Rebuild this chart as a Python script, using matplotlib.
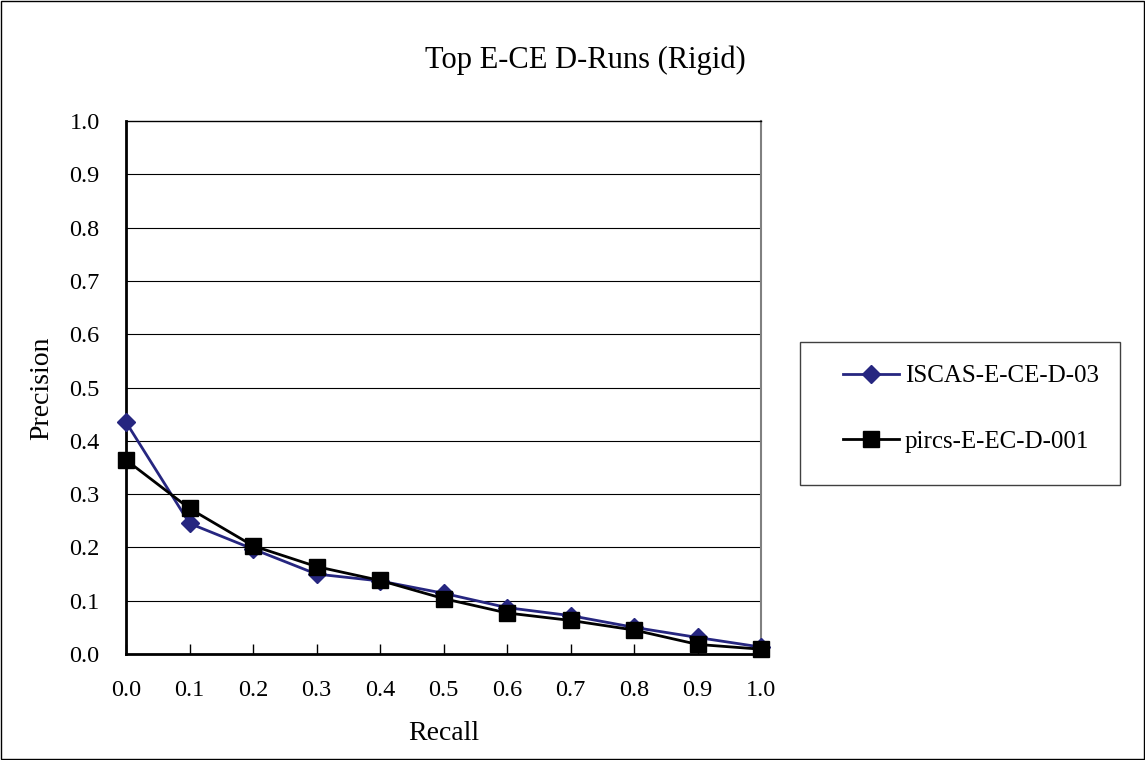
import matplotlib.pyplot as plt
import matplotlib.patches as mpatches

plt.rcParams['font.family'] = ['Liberation Serif', 'DejaVu Serif']

recall = [0.0, 0.1, 0.2, 0.3, 0.4, 0.5, 0.6, 0.7, 0.8, 0.9, 1.0]
iscas = [0.435, 0.245, 0.197, 0.150, 0.137, 0.114, 0.087, 0.072, 0.050, 0.031, 0.013]
pircs = [0.364, 0.273, 0.203, 0.164, 0.138, 0.104, 0.077, 0.063, 0.045, 0.018, 0.009]
names = ['ISCAS-E-CE-D-03', 'pircs-E-EC-D-001']
yticks = [0.0, 0.1, 0.2, 0.3, 0.4, 0.5, 0.6, 0.7, 0.8, 0.9, 1.0]

W, H = 1145, 760
fig = plt.figure(figsize=(W / 100, H / 100), dpi=100)
ax = fig.add_axes([126 / W, 1 - 654 / H, (761 - 126) / W, (654 - 121) / H])

# outer frame
fig.patches.append(mpatches.Rectangle((0.001, 0.001), 0.998, 0.998, transform=fig.transFigure,
                                      fill=False, edgecolor='black', linewidth=1))

for v in yticks[1:-1]:
    ax.axhline(v, color='black', linewidth=0.8, zorder=1)

ax.plot(recall, iscas, color='#262680', linewidth=2, marker='D', markersize=9,
        markerfacecolor='#262680', markeredgecolor='#262680', label=names[0], zorder=3, clip_on=False)
ax.plot(recall, pircs, color='black', linewidth=2, marker='s', markersize=11,
        markerfacecolor='black', markeredgecolor='black', label=names[1], zorder=4, clip_on=False)

ax.set_xlim(0, 1)
ax.set_ylim(0, 1)
ax.set_xticks(recall)
ax.set_xticklabels(['%.1f' % v for v in recall])
ax.set_yticks(yticks)
ax.set_yticklabels(['%.1f' % v for v in yticks])
ax.tick_params(axis='x', direction='in', length=7, width=1, labelsize=17.5, pad=19)
ax.tick_params(axis='y', direction='in', length=0, labelsize=17.5, pad=19)

for s in ['left', 'bottom']:
    ax.spines[s].set_linewidth(2)
ax.spines['right'].set_color('#808080')
ax.spines['right'].set_linewidth(1.5)
ax.spines['top'].set_color('black')
ax.spines['top'].set_linewidth(1)

fig.text(444 / W, 1 - 740 / H, 'Recall', fontsize=20, ha='center', va='baseline')
fig.text(42 / W, 1 - 388 / H, 'Precision', fontsize=20, ha='center', va='center', rotation=90)
fig.text(585 / W, 1 - 68 / H, 'Top E-CE D-Runs (Rigid)', fontsize=22, ha='center', va='baseline')

# legend box
fig.patches.append(mpatches.Rectangle((800 / W, 1 - 485 / H), 320 / W, 143 / H, transform=fig.transFigure,
                                      fill=False, edgecolor='#404040', linewidth=1))
fig.legend(loc='upper left', bbox_to_anchor=(843 / W, 1 - 365 / H), fontsize=18, frameon=False,
           borderpad=0, borderaxespad=0, handlelength=2.24, handletextpad=0.24, labelspacing=1.72)

fig.savefig('out.png', dpi=100)
